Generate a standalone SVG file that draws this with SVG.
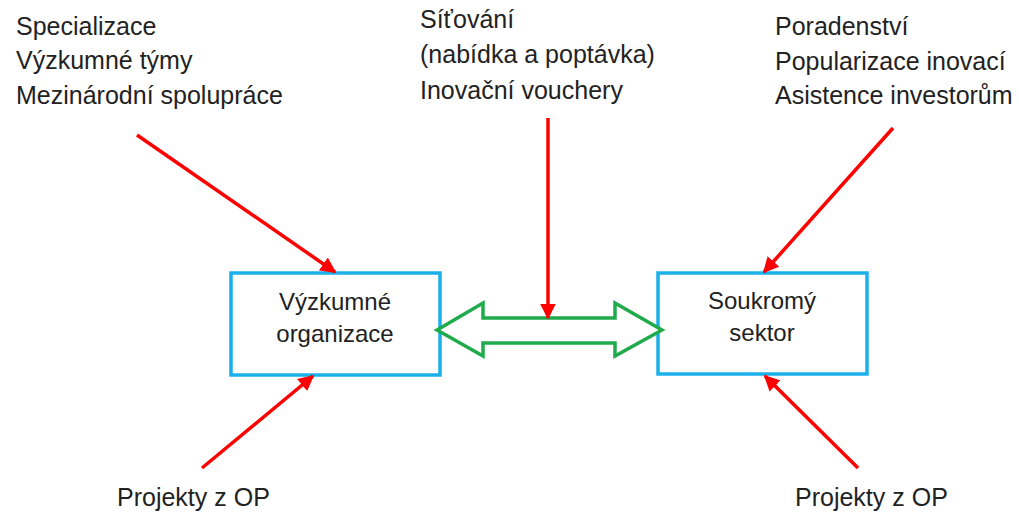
<svg xmlns="http://www.w3.org/2000/svg" width="1019" height="516" viewBox="0 0 1019 516">
<style>
text{font-family:"Liberation Sans","Open Sans",sans-serif;font-size:25px;fill:#222}
.c{text-anchor:middle;font-size:24px}
.box{fill:#fff;stroke:#1cb0ea;stroke-width:3.5}
.red{stroke:#ff0000;stroke-width:3.5;fill:none;marker-end:url(#ah)}
.dbl{fill:#fff;stroke:#1faa4c;stroke-width:3.5;stroke-linejoin:miter}
</style>
<defs>
<marker id="ah" viewBox="0 0 10 10" refX="9" refY="5" markerWidth="4.5" markerHeight="4.5" orient="auto" markerUnits="strokeWidth">
<path d="M0,0 L10,5 L0,10 z" fill="#ff0000"/>
</marker>
</defs>
<rect width="1019" height="516" fill="#fff"/>
<g id="labels">
<text x="16" y="35">Specializace</text>
<text x="16" y="69">Výzkumné týmy</text>
<text x="16" y="104">Mezinárodní spolupráce</text>
<text x="420" y="28">Síťování</text>
<text x="420" y="63">(nabídka a poptávka)</text>
<text x="420" y="99">Inovační vouchery</text>
<text x="775" y="35">Poradenství</text>
<text x="775" y="70">Popularizace inovací</text>
<text x="775" y="104">Asistence investorům</text>
<text x="117" y="506">Projekty z OP</text>
<text x="795" y="506">Projekty z OP</text>
</g>
<g id="vyzkumne-organizace">
<rect class="box" x="231" y="273" width="209" height="102"/>
<text class="c" x="335" y="310">Výzkumné</text>
<text class="c" x="335" y="342">organizace</text>
</g>
<g id="soukromy-sektor">
<rect class="box" x="658" y="273" width="209" height="101"/>
<text class="c" x="762" y="309">Soukromý</text>
<text class="c" x="762" y="341">sektor</text>
</g>
<g id="connectors">
<path class="dbl" d="M437,330 L483,303 L483,318 L615,318 L615,303 L662,330 L615,356 L615,343 L483,343 L483,356 Z"/>
<line class="red" x1="548" y1="118" x2="548" y2="318"/>
<line class="red" x1="137" y1="135" x2="335" y2="272"/>
<line class="red" x1="893" y1="128" x2="764" y2="272"/>
<line class="red" x1="202" y1="468" x2="313" y2="376"/>
<line class="red" x1="858" y1="468" x2="765" y2="376"/>
</g>
</svg>
